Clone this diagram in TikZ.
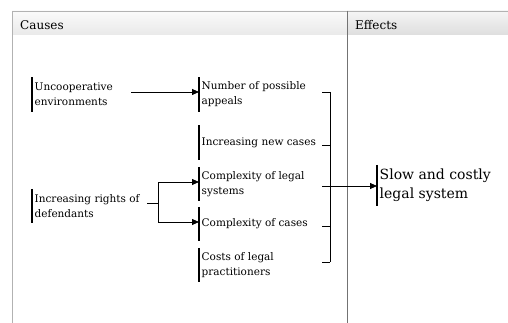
\documentclass[tikz,border=0pt]{standalone}
\usepackage{fontspec}
\setmainfont{DejaVu Serif}
\usetikzlibrary{arrows.meta,calc}
\tikzset{
  bar/.style={draw=black, line width=1.3pt},
  item/.style={anchor=west, align=left, inner xsep=2.5pt, inner ysep=0pt,
    minimum height=34pt, font=\fontsize{10.5}{15}\selectfont,
    append after command={(\tikzlastnode.north west) edge[bar] (\tikzlastnode.south west)}},
  hdr/.style={anchor=west, inner sep=0pt, font=\fontsize{12}{14}\selectfont},
  arr/.style={-{Triangle[length=7pt,width=6pt]}, line width=0.8pt},
  link/.style={line width=0.8pt},
  frame/.style={draw=gray!60, line width=0.8pt},
  divider/.style={draw=gray!90!black, line width=0.8pt},
}
\begin{document}
\begin{tikzpicture}[x=1pt,y=-1pt]
\useasboundingbox (0,0) rectangle (508,323);
% table
\shade[top color=gray!4, bottom color=gray!17] (12,11) rectangle (347,35);
\shade[top color=gray!8, bottom color=gray!26] (347,11) rectangle (508,35);
\draw[frame] (12,323) -- (12,11) -- (508,11);
\draw[divider] (347,11) -- (347,323);
\node[hdr] (hc) at (20,25) {Causes};
\node[hdr] (he) at (355,25) {Effects};
% causes
\node[item] (unc) at (32,94.5) {Uncooperative\\environments};
\node[item] (rig) at (32,206) {Increasing rights of\\defendants};
\node[item] (num) at (199,94.5) {Number of possible\\appeals};
\node[item] (inc) at (199,142.5) {Increasing new cases};
\node[item] (cleg) at (199,184) {Complexity of legal\\systems};
\node[item] (ccas) at (199,224) {Complexity of cases};
\node[item] (cost) at (199,265) {Costs of legal\\practitioners};
% effect
\node[item, minimum height=41pt, font=\fontsize{14}{19}\selectfont] (slow) at (377,185.5) {Slow and costly\\legal system};
% connectors
\draw[arr] ([xshift=16pt,yshift=2.5pt]unc.east) -- ([yshift=2.5pt]num.west);
\coordinate (fk) at (158,203);
\draw[link] ([xshift=5pt,yshift=3pt]rig.east) -- (fk);
\draw[arr] (fk) |- ([yshift=2pt]cleg.west);
\draw[arr] (fk) |- ([yshift=2pt]ccas.west);
% bracket
\coordinate (bt) at (330,92);
\coordinate (bb) at (330,262);
\coordinate (k1) at (322,92);
\coordinate (k2) at (322,145);
\coordinate (k3) at (322,226);
\coordinate (k4) at (322,262);
\draw[link] (bt) -- (bb);
\draw[link] (k1) -- (k1 -| bt);
\draw[link] (k2) -- (k2 -| bt);
\draw[link] (k3) -- (k3 -| bt);
\draw[link] (k4) -- (k4 -| bt);
\coordinate (ea) at (322,186);
\draw[arr] (ea) -- (slow.west |- ea);
\end{tikzpicture}
\end{document}
